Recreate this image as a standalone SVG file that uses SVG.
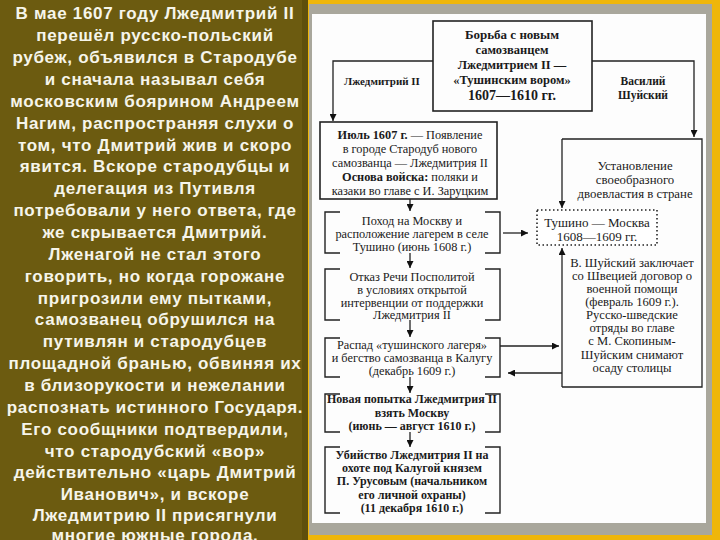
<svg xmlns="http://www.w3.org/2000/svg" width="720" height="540" viewBox="0 0 720 540">
<defs>
<marker id="ah" viewBox="0 0 10 10" refX="10" refY="5" markerWidth="7" markerHeight="7" markerUnits="userSpaceOnUse" orient="auto">
<path d="M0,0 L10,5 L0,10 z" fill="#111"/>
</marker>
<style>
.lt{font-family:"Liberation Sans",Arial,sans-serif;font-weight:bold;font-size:17px;letter-spacing:0.7px;fill:#f6f5ea;text-anchor:middle}
.d{font-family:"Liberation Serif","Times New Roman",serif;font-size:12.3px;fill:#1a1a1a;text-anchor:middle}
.db{font-family:"Liberation Serif","Times New Roman",serif;font-size:12.5px;fill:#1a1a1a;text-anchor:middle;font-weight:bold}
.box{fill:none;stroke:#222;stroke-width:1.6}
.br{fill:none;stroke:#222;stroke-width:1.4}
.ln{fill:none;stroke:#222;stroke-width:1.3}
.ar{fill:none;stroke:#222;stroke-width:1.3;marker-end:url(#ah)}
</style>
</defs>
<rect x="0" y="0" width="720" height="540" fill="#6c5b10"/>
<rect x="302" y="0" width="8" height="540" fill="#5e4f0c"/>
<rect x="308" y="0" width="412" height="540" fill="#efb60a"/>
<rect x="309" y="4" width="403" height="531" fill="#a9a79c"/>
<rect x="312" y="14" width="394" height="509" fill="#fdfdfd"/>

<g id="left-text">
<text class="lt" x="155" y="19">В мае 1607 году Лжедмитрий II</text>
<text class="lt" x="155" y="41">перешёл русско-польский</text>
<text class="lt" x="155" y="63">рубеж, объявился в Стародубе</text>
<text class="lt" x="155" y="85">и сначала называл себя</text>
<text class="lt" x="155" y="107">московским боярином Андреем</text>
<text class="lt" x="155" y="129">Нагим, распространяя слухи о</text>
<text class="lt" x="155" y="151">том, что Дмитрий жив и скоро</text>
<text class="lt" x="155" y="172">явится. Вскоре стародубцы и</text>
<text class="lt" x="155" y="194">делегация из Путивля</text>
<text class="lt" x="155" y="216">потребовали у него ответа, где</text>
<text class="lt" x="155" y="238">же скрывается Дмитрий.</text>
<text class="lt" x="155" y="260">Лженагой не стал этого</text>
<text class="lt" x="155" y="282">говорить, но когда горожане</text>
<text class="lt" x="155" y="304">пригрозили ему пытками,</text>
<text class="lt" x="155" y="325">самозванец обрушился на</text>
<text class="lt" x="155" y="347">путивлян и стародубцев</text>
<text class="lt" x="155" y="369">площадной бранью, обвиняя их</text>
<text class="lt" x="155" y="391">в близорукости и нежелании</text>
<text class="lt" x="155" y="413">распознать истинного Государя.</text>
<text class="lt" x="155" y="435">Его сообщники подтвердили,</text>
<text class="lt" x="155" y="457">что стародубский «вор»</text>
<text class="lt" x="155" y="478">действительно «царь Дмитрий</text>
<text class="lt" x="155" y="500">Иванович», и вскоре</text>
<text class="lt" x="155" y="521">Лжедмитрию II присягнули</text>
<text class="lt" x="155" y="541">многие южные города.</text>
</g>

<g id="connectors">
<polyline class="ar" points="433,61 333,61 333,121"/>
<polyline class="ar" points="592,61 694,61 694,137"/>
<polyline class="ln" points="562,139 702,139 702,387 562,387"/>
<line class="ar" x1="562" y1="387" x2="562" y2="248"/>
<line class="ar" x1="562" y1="139" x2="562" y2="208"/>
<line class="ar" x1="503" y1="233" x2="528" y2="233"/>
<line class="ar" x1="500" y1="346" x2="559" y2="346"/>
<line class="ar" x1="562" y1="373" x2="508" y2="373"/>
<line class="ar" x1="410" y1="199" x2="410" y2="211"/>
<line class="ar" x1="410" y1="253" x2="410" y2="268"/>
<line class="ar" x1="410" y1="320" x2="410" y2="337"/>
<line class="ar" x1="410" y1="377" x2="410" y2="393"/>
<line class="ar" x1="410" y1="432" x2="410" y2="447"/>
</g>

<g id="title">
<rect class="box" x="433" y="21" width="159" height="90" fill="#fff"/>
<text class="db" style="font-size:13px" x="512" y="39">Борьба с новым</text>
<text class="db" x="512" y="54">самозванцем</text>
<text class="db" x="512" y="69">Лжедмитрием II —</text>
<text class="db" x="512" y="84">«Тушинским вором»</text>
<text class="db" style="font-size:14px" x="512" y="100">1607—1610 гг.</text>
</g>

<g id="label-left">
<text class="db" style="font-size:11px" x="382" y="85">Лжедмитрий II</text>
</g>

<g id="label-right">
<text class="db" style="font-size:11.5px" x="643" y="85">Василий</text>
<text class="db" style="font-size:11.5px" x="643" y="99">Шуйский</text>
</g>

<g id="box1">
<rect class="box" x="320" y="122" width="177" height="77" fill="#fff"/>
<text class="d" x="410" y="139"><tspan font-weight="bold">Июль 1607 г.</tspan> — Появление</text>
<text class="d" x="410" y="153">в городе Стародуб нового</text>
<text class="d" x="410" y="167">самозванца — Лжедмитрия II</text>
<text class="d" x="410" y="181"><tspan font-weight="bold">Основа войска:</tspan> поляки и</text>
<text class="d" x="410" y="195">казаки во главе с И. Заруцким</text>
</g>

<g id="dvoevlastie">
<text class="d" style="font-size:12.8px" x="635" y="170">Установление</text>
<text class="d" style="font-size:12.8px" x="635" y="184">своеобразного</text>
<text class="d" style="font-size:12.8px" x="635" y="198">двоевластия в стране</text>
</g>

<g id="tushino">
<rect x="537" y="210" width="120" height="35" fill="#fff" stroke="#222" stroke-width="1.6" stroke-dasharray="1.5,2.5"/>
<text class="d" style="font-size:13px" x="597" y="227">Тушино — Москва</text>
<text class="d" style="font-size:13px" x="597" y="241">1608—1609 гг.</text>
</g>

<g id="box2">
<path class="br" d="M340,212 H325 V253 H340 M485,212 H500 V253 H485"/>
<text class="d" x="412" y="225">Поход на Москву и</text>
<text class="d" x="412" y="238">расположение лагерем в селе</text>
<text class="d" x="412" y="251">Тушино (июнь 1608 г.)</text>
</g>

<g id="box3">
<path class="br" d="M340,269 H325 V320 H340 M485,269 H500 V320 H485"/>
<text class="d" x="412" y="281">Отказ Речи Посполитой</text>
<text class="d" x="412" y="294">в условиях открытой</text>
<text class="d" x="412" y="307">интервенции от поддержки</text>
<text class="d" x="412" y="319">Лжедмитрия II</text>
</g>

<g id="box4">
<path class="br" d="M340,338 H325 V377 H340 M485,338 H500 V377 H485"/>
<text class="d" x="412" y="349">Распад «тушинского лагеря»</text>
<text class="d" x="412" y="362">и бегство самозванца в Калугу</text>
<text class="d" x="412" y="375">(декабрь 1609 г.)</text>
</g>

<g id="box5">
<path class="br" d="M340,394 H325 V432 H340 M485,394 H500 V432 H485"/>
<text class="db" style="font-size:12px" x="412" y="403">Новая попытка Лжедмитрия II</text>
<text class="db" style="font-size:12px" x="412" y="417">взять Москву</text>
<text class="db" style="font-size:12px" x="412" y="430">(июнь — август 1610 г.)</text>
</g>

<g id="box6">
<path class="br" d="M340,447 H325 V513 H340 M485,447 H500 V513 H485"/>
<text class="db" style="font-size:12px" x="412" y="459">Убийство Лжедмитрия II на</text>
<text class="db" style="font-size:12px" x="412" y="472">охоте под Калугой князем</text>
<text class="db" style="font-size:12px" x="412" y="485">П. Урусовым (начальником</text>
<text class="db" style="font-size:12px" x="412" y="499">его личной охраны)</text>
<text class="db" style="font-size:12px" x="412" y="512">(11 декабря 1610 г.)</text>
</g>

<g id="shuisky">
<text class="d" style="font-size:12.6px" x="632" y="267">В. Шуйский заключает</text>
<text class="d" style="font-size:12.6px" x="632" y="280">со Швецией договор о</text>
<text class="d" style="font-size:12.6px" x="632" y="293">военной помощи</text>
<text class="d" style="font-size:12.6px" x="632" y="306">(февраль 1609 г.).</text>
<text class="d" style="font-size:12.6px" x="632" y="319">Русско-шведские</text>
<text class="d" style="font-size:12.6px" x="632" y="332">отряды во главе</text>
<text class="d" style="font-size:12.6px" x="632" y="345">с М. Скопиным-</text>
<text class="d" style="font-size:12.6px" x="632" y="359">Шуйским снимают</text>
<text class="d" style="font-size:12.6px" x="632" y="372">осаду столицы</text>
</g>
</svg>
